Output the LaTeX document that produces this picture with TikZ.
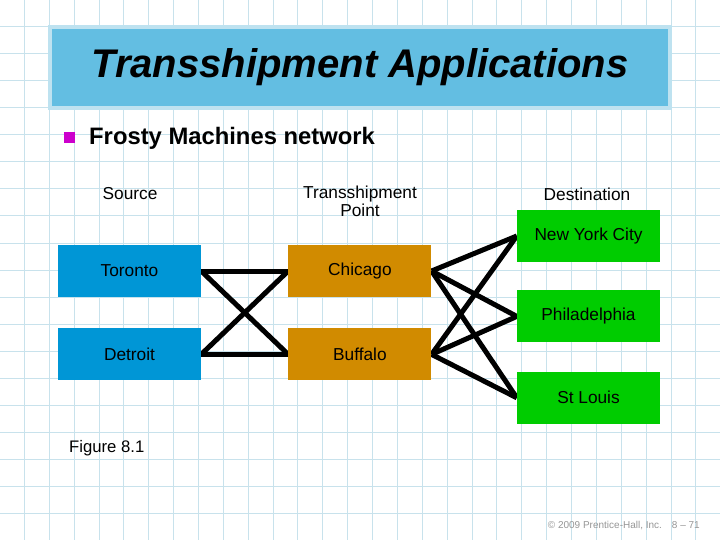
\documentclass[tikz,border=0pt]{standalone}
\usepackage{fontspec}
\setmainfont{Liberation Sans}
\usetikzlibrary{positioning}
\pgfdeclarelayer{background}
\pgfdeclarelayer{edges}
\pgfsetlayers{background,edges,main}
\definecolor{gridblue}{RGB}{200,226,236}
\definecolor{titlefill}{RGB}{99,190,226}
\definecolor{titleedge}{RGB}{190,226,240}
\definecolor{srcblue}{RGB}{0,150,214}
\definecolor{hubgold}{RGB}{209,139,0}
\definecolor{dstgreen}{RGB}{0,204,0}
\definecolor{bulletmag}{RGB}{204,0,204}
\definecolor{footgray}{RGB}{150,150,150}
\tikzset{
  box/.style={minimum width=143pt, minimum height=52pt, inner sep=0pt,
              align=center, font=\fontsize{17.3}{19}\selectfont},
  srcbox/.style={box, fill=srcblue},
  hubbox/.style={box, fill=hubgold},
  dstbox/.style={box, fill=dstgreen},
  link/.style={line width=5pt},
  head/.style={font=\fontsize{17.3}{18}\selectfont, align=center},
  titlebar/.style={fill=titlefill, draw=titleedge, line width=4pt,
                   minimum width=620pt, minimum height=81pt, inner sep=0pt,
                   font=\bfseries\itshape\fontsize{40}{44}\selectfont},
}

\begin{document}
\begin{tikzpicture}[x=1pt,y=-1pt]
  \useasboundingbox (0,0) rectangle (720,540);

  % Grid paper
  \begin{pgfonlayer}{background}
    \fill[white] (0,0) rectangle (720,540);
    \foreach \i in {0,...,28}
      \draw[gridblue, line width=1pt] ({24.4+24.87*\i},0) -- ({24.4+24.87*\i},540);
    \foreach \j in {1,...,19}
      \draw[gridblue, line width=1pt] (0,27*\j) -- (720,27*\j);
  \end{pgfonlayer}

  % Title
  \node[titlebar] (title) at (360,67.5) {Transshipment Applications};
  \node[fill=bulletmag, minimum size=11pt, inner sep=0pt] (bullet) at (69,137.5) {};
  \node[anchor=base west, inner sep=0pt, font=\bfseries\fontsize{23.8}{27}\selectfont]
    (subtitle) at (89,145) {Frosty Machines network};

  % Column heads
  \node[head] (srclabel) at (130,194) {Source};
  \node[head] (hublabel) at (360,201) {Transshipment\\Point};
  \node[head] (dstlabel) at (587,194) {Destination};

  % Sources
  \node[srcbox] (toronto) at (129.5,271) {Toronto};
  \node[srcbox, below=31pt of toronto] (detroit) {Detroit};

  % Transshipment points
  \node[hubbox, right=87pt of toronto] (chicago) {Chicago};
  \node[hubbox, right=87pt of detroit] (buffalo) {Buffalo};

  % Destinations
  \node[dstbox] (newyork) at (588.5,236) {New York City};
  \node[dstbox, below=28pt of newyork] (philly) {Philadelphia};
  \node[dstbox, below=29pt of philly] (stlouis) {St Louis};

  \begin{pgfonlayer}{edges}
    \foreach \a in {toronto,detroit}
      \foreach \b in {chicago,buffalo}
        \draw[link] (\a.east) -- (\b.west);
    \foreach \a in {chicago,buffalo}
      \foreach \b in {newyork,philly,stlouis}
        \draw[link] (\a.east) -- (\b.west);
  \end{pgfonlayer}

  \node[anchor=west, inner sep=0pt, font=\fontsize{16.7}{18}\selectfont]
    (figlabel) at (69,448) {Figure 8.1};
  \node[anchor=base east, inner sep=0pt, text=footgray, font=\fontsize{10}{12}\selectfont]
    (footer) at (700,528) {\textcopyright{} 2009 Prentice-Hall, Inc.\quad 8 -- 71};
\end{tikzpicture}
\end{document}
